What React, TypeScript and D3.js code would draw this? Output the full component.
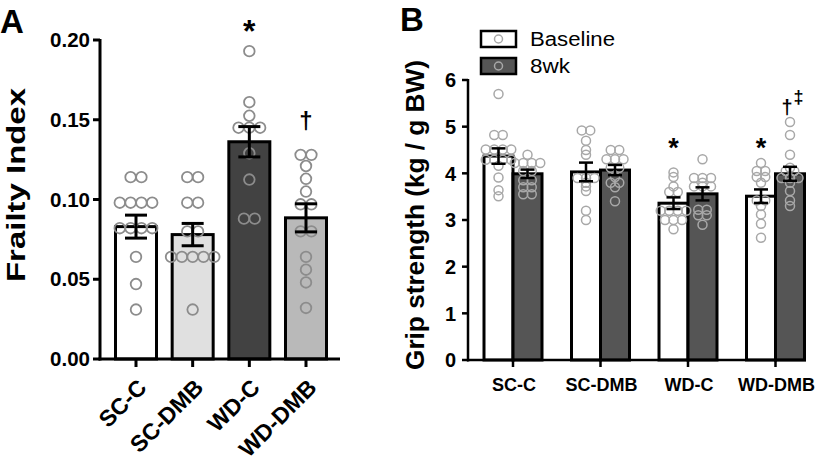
import React from "react";
import * as d3 from "d3";

// ---------- Panel A data ----------
const catsA = ["SC-C", "SC-DMB", "WD-C", "WD-DMB"];
const meanA = [0.083, 0.078, 0.1362, 0.0885];
const semA = [0.0072, 0.007, 0.0095, 0.0088];
const fillA = ["#ffffff", "#e0e0e0", "#424242", "#b9b9b9"];
const ptsA_SCC = [0.114, 0.114, 0.098, 0.098, 0.098, 0.098, 0.082, 0.082, 0.082, 0.082, 0.064, 0.047, 0.031];
const ptsA_SCDMB = [0.114, 0.114, 0.098, 0.098, 0.08, 0.08, 0.064, 0.064, 0.064, 0.064, 0.064, 0.031];
const ptsA_WDC = [0.193, 0.161, 0.1525, 0.145, 0.145, 0.145, 0.129, 0.1125, 0.088, 0.088];
const ptsA_WDDMB = [0.128, 0.128, 0.121, 0.113, 0.105, 0.097, 0.097, 0.08, 0.08, 0.064, 0.056, 0.048, 0.032];
const ptsA = [ptsA_SCC, ptsA_SCDMB, ptsA_WDC, ptsA_WDDMB];
const ticksA = [0, 0.05, 0.1, 0.15, 0.2];

// ---------- Panel B data ----------
const groupsB = ["SC-C", "SC-DMB", "WD-C", "WD-DMB"];
const seriesB = ["Baseline", "8wk"];
const meanBase = [4.37, 4.03, 3.36, 3.51];
const semBase = [0.165, 0.2, 0.125, 0.145];
const mean8wk = [3.99, 4.07, 3.56, 3.99];
const sem8wk = [0.09, 0.11, 0.14, 0.15];
const ptsBase = [
  [5.7, 4.82, 4.82, 4.51, 4.51, 4.51, 4.51, 4.29, 4.29, 4.29, 4.29, 4.16, 3.91, 3.64, 3.51],
  [4.92, 4.92, 4.7, 4.5, 4.4, 3.9, 3.9, 3.9, 3.8, 3.72, 3.62, 3.2, 3.0],
  [4.02, 3.92, 3.72, 3.6, 3.6, 3.2, 3.2, 3.2, 3.2, 3.0, 3.0, 3.0, 2.8],
  [4.22, 4.05, 4.05, 3.92, 3.92, 3.8, 3.42, 3.42, 3.3, 3.12, 2.92, 2.62],
];
const pts8wk = [
  [4.4, 4.22, 4.22, 4.22, 4.22, 4.05, 4.05, 3.85, 3.85, 3.7, 3.7, 3.55, 3.55],
  [4.5, 4.5, 4.3, 4.3, 4.3, 4.12, 4.12, 3.92, 3.8, 3.8, 3.7, 3.4],
  [4.3, 3.9, 3.9, 3.9, 3.8, 3.72, 3.72, 3.72, 3.22, 3.22, 3.1, 3.1, 2.9],
  [5.1, 4.82, 4.4, 4.12, 4.05, 4.05, 3.9, 3.9, 3.9, 3.8, 3.62, 3.42, 3.3],
];
const ticksB = [0, 1, 2, 3, 4, 5, 6];

const FONT = "'Liberation Sans', Arial, Helvetica, sans-serif";

// centred rows for equal values (GraphPad-like scatter)
function swarm(vals: number[], spacing: number) {
  const counts = new Map<number, number>();
  vals.forEach((v) => counts.set(v, (counts.get(v) || 0) + 1));
  const seen = new Map<number, number>();
  return vals.map((v) => {
    const n = counts.get(v)!;
    const i = seen.get(v) || 0;
    seen.set(v, i + 1);
    return { v, dx: (i - (n - 1) / 2) * spacing };
  });
}

function ErrBar({ x, y1, y2, cap, sw }: { x: number; y1: number; y2: number; cap: number; sw: number }) {
  return (
    <g stroke="#000" strokeWidth={sw}>
      <line x1={x} x2={x} y1={y1} y2={y2} />
      <line x1={x - cap / 2} x2={x + cap / 2} y1={y1} y2={y1} />
      <line x1={x - cap / 2} x2={x + cap / 2} y1={y2} y2={y2} />
    </g>
  );
}

export default function App() {
  // Panel A scales
  const yA = d3.scaleLinear().domain([0, 0.2]).range([359, 40]);
  const xA = d3.scalePoint<string>().domain(catsA).range([136, 306]);
  const bwA = 41;
  const axAx = 100;

  // Panel B scales
  const yB = d3.scaleLinear().domain([0, 6]).range([360, 80]);
  const xB = d3.scalePoint<string>().domain(groupsB).range([513, 775.5]);
  const bwB = 29;
  const axBx = 468;

  const ptA = "#8c8c8c";
  const ptB = "#a8a8a8";

  return (
    <svg width={819} height={470} style={{ position: "absolute", left: 0, top: 0, background: "#fff" }} fontFamily={FONT}>
      {/* ---------------- Panel A ---------------- */}
      <text x={0} y={33} fontSize={33} fontWeight="bold">A</text>
      {catsA.map((c, i) => (
        <rect key={c} x={xA(c)! - bwA / 2} y={yA(meanA[i])} width={bwA} height={yA(0) - yA(meanA[i])}
          fill={fillA[i]} stroke="#000" strokeWidth={3} />
      ))}
      {catsA.map((c, i) =>
        swarm(ptsA[i], 10.8).map((p, j) => (
          <circle key={c + j} cx={xA(c)! + p.dx} cy={yA(p.v)} r={5.3} fill="none" stroke={ptA} strokeWidth={1.8} />
        ))
      )}
      {catsA.map((c, i) => (
        <ErrBar key={c} x={xA(c)!} y1={yA(meanA[i] + semA[i])} y2={yA(meanA[i] - semA[i])} cap={22} sw={3} />
      ))}
      <line x1={axAx} x2={axAx} y1={yA(0.2) - 1} y2={yA(0) + 1.5} stroke="#000" strokeWidth={3} />
      <line x1={axAx - 1.5} x2={340} y1={yA(0)} y2={yA(0)} stroke="#000" strokeWidth={3} />
      {ticksA.map((t) => (
        <g key={t}>
          <line x1={axAx - 7} x2={axAx} y1={yA(t)} y2={yA(t)} stroke="#000" strokeWidth={3} />
          <text x={90} y={yA(t)} dy="0.35em" textAnchor="end" fontSize={20} fontWeight="bold" textLength={40} lengthAdjust="spacingAndGlyphs">
            {d3.format(".2f")(t)}
          </text>
        </g>
      ))}
      {catsA.map((c) => (
        <g key={c}>
          <line x1={xA(c)!} x2={xA(c)!} y1={yA(0)} y2={yA(0) + 8} stroke="#000" strokeWidth={3} />
          <text transform={`translate(${xA(c)! + 12},${389}) rotate(-45)`} textAnchor="end" fontSize={23} fontWeight="bold">
            {c}
          </text>
        </g>
      ))}
      <text transform={`translate(25,185) rotate(-90)`} textAnchor="middle" fontSize={25} fontWeight="bold" textLength={194} lengthAdjust="spacingAndGlyphs">
        Frailty Index
      </text>
      <text x={xA("WD-C")!} y={42} textAnchor="middle" fontSize={32} fontWeight="bold">*</text>
      <text x={xA("WD-DMB")!} y={129} textAnchor="middle" fontSize={24} fontWeight="bold">†</text>

      {/* ---------------- Panel B ---------------- */}
      <text x={400} y={31} fontSize={33} fontWeight="bold">B</text>
      {seriesB.map((s, k) => (
        <g key={s}>
          <rect x={481} y={31 + k * 27} width={35} height={16} fill={k === 0 ? "#fff" : "#555"} stroke="#000" strokeWidth={2.5} />
          <circle cx={498.5} cy={39 + k * 27} r={4} fill="none" stroke={ptB} strokeWidth={1.5} />
          <text x={530} y={46 + k * 27} fontSize={20} textLength={k === 0 ? 85 : 40} lengthAdjust="spacingAndGlyphs">{s}</text>
        </g>
      ))}
      {groupsB.map((g, i) => (
        <g key={g}>
          <rect x={xB(g)! - bwB} y={yB(meanBase[i])} width={bwB} height={yB(0) - yB(meanBase[i])} fill="#fff" stroke="#000" strokeWidth={3} />
          <rect x={xB(g)!} y={yB(mean8wk[i])} width={bwB} height={yB(0) - yB(mean8wk[i])} fill="#555" stroke="#000" strokeWidth={3} />
        </g>
      ))}
      {groupsB.map((g, i) => (
        <g key={g}>
          {swarm(ptsBase[i], 8.5).map((p, j) => (
            <circle key={"b" + j} cx={xB(g)! - bwB / 2 + p.dx} cy={yB(p.v)} r={4.5} fill="none" stroke={ptB} strokeWidth={1.5} />
          ))}
          {swarm(pts8wk[i], 8.5).map((p, j) => (
            <circle key={"w" + j} cx={xB(g)! + bwB / 2 + p.dx} cy={yB(p.v)} r={4.5} fill="none" stroke={ptB} strokeWidth={1.5} />
          ))}
        </g>
      ))}
      {groupsB.map((g, i) => (
        <g key={g}>
          <ErrBar x={xB(g)! - bwB / 2} y1={yB(meanBase[i] + semBase[i])} y2={yB(meanBase[i] - semBase[i])} cap={14} sw={2.5} />
          <ErrBar x={xB(g)! + bwB / 2} y1={yB(mean8wk[i] + sem8wk[i])} y2={yB(mean8wk[i] - sem8wk[i])} cap={14} sw={2.5} />
        </g>
      ))}
      <line x1={axBx} x2={axBx} y1={yB(6) - 1} y2={yB(0) + 1.5} stroke="#000" strokeWidth={2.5} />
      <line x1={axBx - 1} x2={806} y1={yB(0)} y2={yB(0)} stroke="#000" strokeWidth={2.5} />
      {ticksB.map((t) => (
        <g key={t}>
          <line x1={axBx - 6} x2={axBx} y1={yB(t)} y2={yB(t)} stroke="#000" strokeWidth={2.5} />
          <text x={456} y={yB(t)} dy="0.36em" textAnchor="end" fontSize={20} fontWeight="bold">{t}</text>
        </g>
      ))}
      {groupsB.map((g) => (
        <g key={g}>
          <line x1={xB(g)!} x2={xB(g)!} y1={yB(0)} y2={yB(0) + 7} stroke="#000" strokeWidth={2.5} />
          <text x={xB(g)! + 1} y={391} textAnchor="middle" fontSize={18} fontWeight="bold">{g}</text>
        </g>
      ))}
      <text transform={`translate(424,215) rotate(-90)`} textAnchor="middle" fontSize={25} fontWeight="bold" textLength={310} lengthAdjust="spacingAndGlyphs">
        Grip strength (kg / g BW)
      </text>
      <text x={xB("WD-C")! - bwB / 2} y={157} textAnchor="middle" fontSize={27} fontWeight="bold">*</text>
      <text x={xB("WD-DMB")! - bwB / 2} y={157} textAnchor="middle" fontSize={27} fontWeight="bold">*</text>
      <text x={787} y={114} textAnchor="middle" fontSize={20} fontWeight="bold">†</text>
      <text x={798.5} y={103} textAnchor="middle" fontSize={18} fontWeight="bold">‡</text>
    </svg>
  );
}
